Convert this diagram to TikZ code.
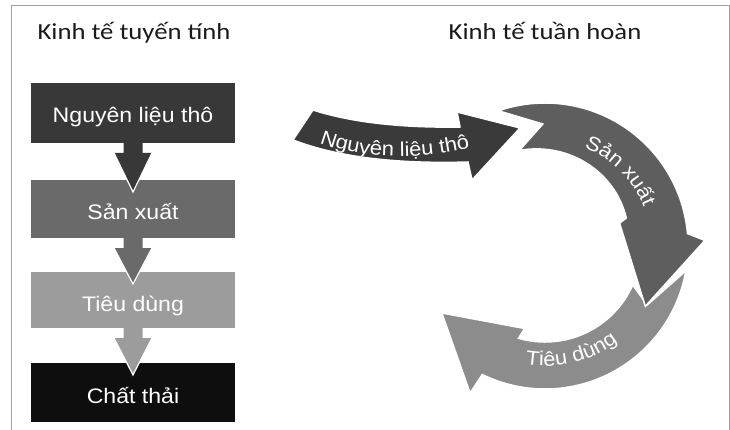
\documentclass[tikz,border=0pt]{standalone}
\usepackage{fontspec}
\usetikzlibrary{calc,decorations.text}
\newfontfamily\titlefont{Carlito}[FakeStretch=1.16]
\newfontfamily\boxfont{Liberation Sans}[FakeStretch=1.1]
\newcommand\arrowfont{\boxfont\fontsize{20}{23}\selectfont}
\definecolor{cA}{HTML}{383838}
\definecolor{cB}{HTML}{6A6A6A}
\definecolor{cC}{HTML}{9C9C9C}
\definecolor{cD}{HTML}{0E0E0E}
\definecolor{rA}{HTML}{3A3A3A}
\definecolor{rB}{HTML}{5E5E5E}
\definecolor{rC}{HTML}{8C8C8C}
\definecolor{framecol}{HTML}{A0A0A0}
\definecolor{titlecol}{HTML}{1A1A1A}
\newcommand\linkarrow[3]{%
  \fill[#3] ($(#1.south)+(-9.5,0.5)$) -- ($(#1.south)+(-9.5,-10)$) -- ($(#1.south)+(-19,-10)$)
    -- ($(#2.north)+(0,-12)$) -- ($(#1.south)+(19,-10)$) -- ($(#1.south)+(9.5,-10)$)
    -- ($(#1.south)+(9.5,0.5)$) -- cycle;
  \draw[white, line width=1.2] ($(#1.south)+(-19,-10)$) -- ($(#2.north)+(0,-12)$) -- ($(#1.south)+(19,-10)$);
}
\begin{document}
\begin{tikzpicture}[x=1pt,y=1pt,
  title/.style={font=\titlefont\fontsize{23}{27}\selectfont, text=titlecol, anchor=base, inner sep=0},
  stepbox/.style={rectangle, minimum width=204, minimum height=#1, inner sep=0, outer sep=0},
  boxtext/.style={font=\boxfont\fontsize{21}{25}\selectfont, text=white, anchor=base, inner sep=0},
  ringshape/.style={draw=white, line width=1.5, line join=miter},
]
\useasboundingbox (0,0) rectangle (730,-430);
\fill[white] (0,0) rectangle (730,-430);
\draw[framecol, line width=0.8] (11,-430) -- (11,-5) -- (729,-5) -- (729,-430);

% titles
\node[title] (t1) at (134,-40) {Kinh tế tuyến tính};
\node[title] (t2) at (545,-40) {Kinh tế tuần hoàn};

% linear economy
\node[stepbox=60, fill=cA] (b1) at (133,-113) {};
\node[stepbox=58, fill=cB] (b2) at (133,-209) {};
\node[stepbox=56, fill=cC] (b3) at (133,-300) {};
\node[stepbox=59, fill=cD] (b4) at (133,-392.5) {};
\linkarrow{b1}{b2}{cA}
\linkarrow{b2}{b3}{cB}
\linkarrow{b3}{b4}{cC}
\node[boxtext] (l1) at ($(b1.center)+(0,-10)$) {Nguyên liệu thô};
\node[boxtext] (l2) at ($(b2.center)+(0,-10)$) {Sản xuất};
\node[boxtext] (l3) at ($(b3.center)+(0,-11)$) {Tiêu dùng};
\node[boxtext] (l4) at ($(b4.center)+(0,-11)$) {Chất thải};

% circular economy
\coordinate (C) at (545,-246);
\filldraw[ringshape, fill=rC] ([shift={(C)}]-10:143) arc[start angle=-10, end angle=-116, radius=143]
  -- ([shift={(C)}]-117:165) -- ([shift={(C)}]-147:123) -- ([shift={(C)}]-104:85)
  -- ([shift={(C)}]-106:96) arc[start angle=-106, end angle=-24, radius=96]
  -- ([shift={(C)}]-30:118) -- cycle;
\filldraw[ringshape, fill=rB] ([shift={(C)}]109:143) arc[start angle=109, end angle=5, radius=143]
  -- ([shift={(C)}]2:160) -- ([shift={(C)}]-31:117) -- ([shift={(C)}]17:78)
  -- plot[domain=19:105, samples=40] ({545+(86+13*(\x-19)/86)*cos(\x)}, {-246+(86+13*(\x-19)/86)*sin(\x)})
  -- ([shift={(C)}]91:122) -- cycle;
\filldraw[ringshape, fill=rA] (313,-110) .. controls (350,-122) and (400,-128) .. (460,-127)
  -- (457,-112) -- (520,-128) -- (472,-180) -- (468,-162)
  .. controls (400,-164) and (340,-158) .. (293,-140) -- cycle;

\path[decorate, decoration={text along path, text align=center, text color=white,
  text={|\arrowfont|Nguyên liệu thô}}]
  (310,-139) .. controls (360,-161) and (420,-161) .. (480,-145);
\path[decorate, decoration={text along path, text align=center, text color=white,
  text={|\arrowfont|Sản xuất}}]
  ([shift={(C)}]88:106) arc[start angle=88, end angle=2, radius=106];
\path[decorate, decoration={text along path, text align=center, text color=white,
  text={|\arrowfont|Tiêu dùng}}]
  ([shift={(C)}]-122:120) arc[start angle=-122, end angle=-30, radius=120];
\end{tikzpicture}
\end{document}
